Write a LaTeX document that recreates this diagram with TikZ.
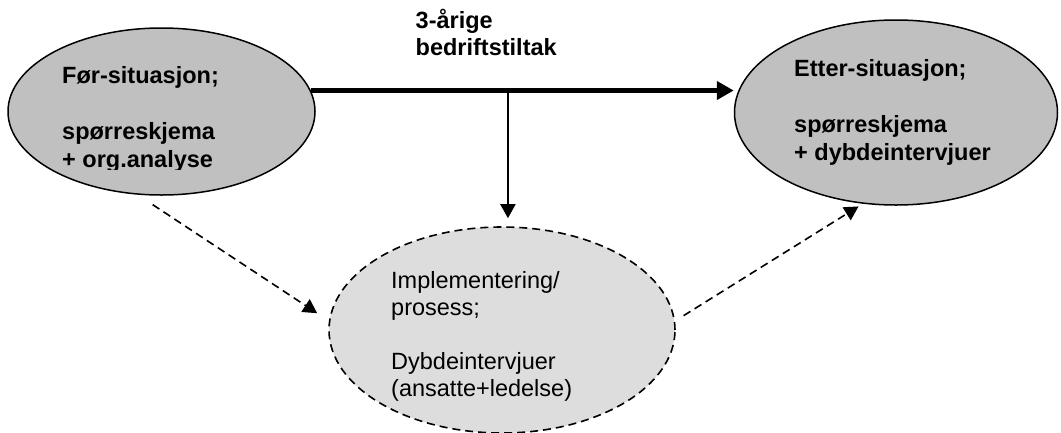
\documentclass[tikz,border=0pt]{standalone}
\usepackage{fontspec}
\setmainfont{Liberation Sans}
\usetikzlibrary{arrows.meta,shapes.geometric}
\definecolor{situgray}{RGB}{192,192,192}
\definecolor{procgray}{RGB}{221,221,221}
\begin{document}
\begin{tikzpicture}[x=1pt,y=-1pt,line join=round,>={Triangle[length=14pt,width=15pt]},
	font=\fontsize{23.5}{28}\selectfont,
	situ/.style={ellipse,draw,line width=1.5pt,fill=situgray,inner sep=0pt},
	txt/.style={anchor=base west,align=left,inner sep=0pt},
	dashline/.style={line width=1.6pt,dash pattern=on 8pt off 5pt}]
	\useasboundingbox (0,0) rectangle (1061,432);
	\node[situ,minimum width=307,minimum height=167] (foer) at (161.5,111.5) {};
	\node[situ,minimum width=323,minimum height=185] (etter) at (896,112.5) {};
	\node[ellipse,draw,dashline,fill=procgray,inner sep=0pt,minimum width=346,minimum height=206] (impl) at (502,330) {};
	% base = last line of each text
	\begin{scope}
		\clip (0,0) rectangle (330,169);
		\node[txt,font=\fontsize{23.5}{28}\selectfont\bfseries] (foertxt) at (62,167) {Før-situasjon;\\[28pt]spørreskjema\\+ org.analyse};
	\end{scope}
	\node[txt,font=\fontsize{23.5}{28}\selectfont\bfseries] (ettertxt) at (794,160) {Etter-situasjon;\\[28pt]spørreskjema\\+ dybdeintervjuer};
	\node[txt,font=\fontsize{23.5}{27}\selectfont] (impltxt) at (391,396) {Implementering/\\prosess;\\[27pt]Dybdeintervjuer\\(ansatte+ledelse)};
	% tiltak
	\draw[line width=5.5pt,-{Triangle[length=17pt,width=18pt]}] (foer.8) -- (foer.8 -| etter.west) coordinate[pos=.466] (split);
	\node[txt,font=\fontsize{23.5}{27}\selectfont\bfseries] (tiltak) at (415.5,55) {3-årige\\bedriftstiltak};
	\draw[line width=2pt,->,shorten >=8pt] (split) -- (split |- impl.north);
	\draw[dashline,->,shorten <=18pt,shorten >=14pt] (foer.254) -- (impl.177);
	\draw[dashline,->,shorten <=10pt,shorten >=5pt] (impl.3) -- (etter.250);
\end{tikzpicture}
\end{document}
